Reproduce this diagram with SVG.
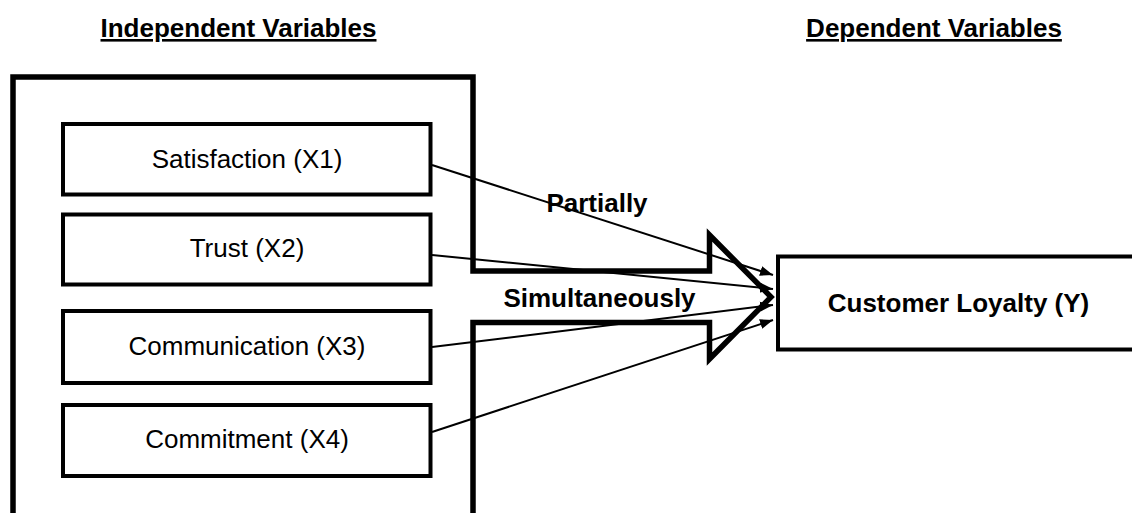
<svg xmlns="http://www.w3.org/2000/svg" width="1132" height="513" viewBox="0 0 1132 513">
<style>
.t{font-family:"Liberation Sans",Arial,sans-serif;font-size:26px;fill:#000;text-anchor:middle}
.b{font-weight:bold}
.box{fill:#fff;stroke:#000;stroke-width:4}
.conn{stroke:#000;stroke-width:2;fill:none}
</style>
<defs>
<marker id="ah" markerUnits="userSpaceOnUse" markerWidth="14" markerHeight="12" refX="13" refY="5" orient="auto" viewBox="0 0 14 10">
<path d="M0,0 L13,5 L0,10 z" fill="#000"/>
</marker>
</defs>
<rect width="1132" height="513" fill="#fff"/>
<text class="t b" x="238.5" y="37" text-decoration="underline">Independent Variables</text>
<text class="t b" x="934" y="37" text-decoration="underline">Dependent Variables</text>
<g id="frame">
<path d="M13,520 L13,77 L473,77 L473,271 L709.5,271 L709.5,235 L771,297 L709.5,359 L709.5,322.5 L473,322.5 L473,520" fill="none" stroke="#000" stroke-width="5.5" stroke-linejoin="miter" stroke-miterlimit="10"/>
</g>
<g id="x1"><rect class="box" x="63" y="124" width="367.5" height="70.5"/><text class="t" x="247" y="168">Satisfaction (X1)</text></g>
<g id="x2"><rect class="box" x="63" y="214.5" width="367.5" height="70"/><text class="t" x="247" y="257">Trust (X2)</text></g>
<g id="x3"><rect class="box" x="63" y="311" width="367.5" height="72"/><text class="t" x="247" y="355">Communication (X3)</text></g>
<g id="x4"><rect class="box" x="63" y="405" width="367.5" height="71"/><text class="t" x="247" y="448">Commitment (X4)</text></g>
<g id="y"><rect class="box" x="778" y="256.5" width="400" height="93"/><text class="t b" x="958.5" y="312">Customer Loyalty (Y)</text></g>
<g id="connectors">
<line class="conn" x1="432" y1="165" x2="773" y2="275" marker-end="url(#ah)"/>
<line class="conn" x1="432" y1="255" x2="773" y2="289" marker-end="url(#ah)"/>
<line class="conn" x1="432" y1="347" x2="773" y2="305" marker-end="url(#ah)"/>
<line class="conn" x1="432" y1="432" x2="773" y2="320" marker-end="url(#ah)"/>
</g>
<text class="t b" x="597" y="212">Partially</text>
<text class="t b" x="599.5" y="307">Simultaneously</text>
</svg>
